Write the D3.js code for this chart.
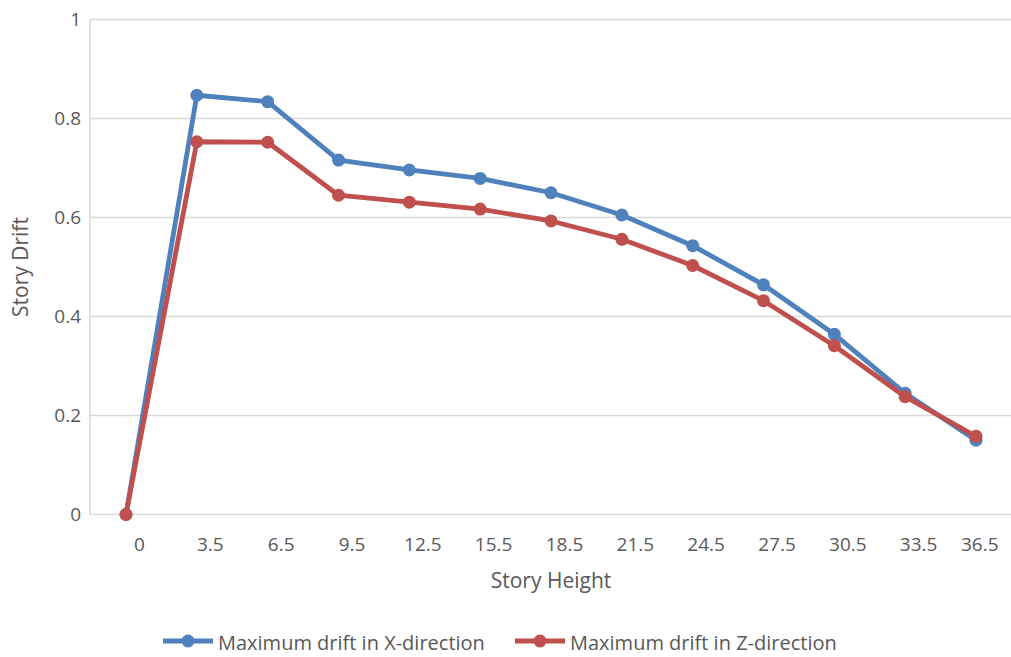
<!DOCTYPE html>
<html>
<head>
<meta charset="utf-8">
<script src="https://cdn.jsdelivr.net/npm/d3@7"></script>
<style>
  html, body { margin: 0; padding: 0; background: #fff; }
  svg { display: block; }
  text { font-family: "Open Sans", "Noto Sans", sans-serif; fill: #595959; }
</style>
</head>
<body>
<svg id="chart" width="1011" height="657"></svg>
<script>
// Story heights (m) along the building
const storyHeights = ["0", "3.5", "6.5", "9.5", "12.5", "15.5", "18.5", "21.5", "24.5", "27.5", "30.5", "33.5", "36.5"];
// Maximum story drift per level
const driftX = [0, 0.847, 0.834, 0.716, 0.696, 0.679, 0.650, 0.605, 0.543, 0.464, 0.364, 0.245, 0.150];
const driftZ = [0, 0.753, 0.752, 0.645, 0.631, 0.617, 0.593, 0.556, 0.503, 0.432, 0.341, 0.238, 0.158];
const yTicks = [0, 0.2, 0.4, 0.6, 0.8, 1];
const seriesNames = ["Maximum drift in X-direction", "Maximum drift in Z-direction"];
const seriesColors = ["#4F81BD", "#C0504D"];

const svg = d3.select("#chart");
const W = 1011;
const plotLeft = 90, plotTop = 19.5, plotBottom = 514.5;

const x = d3.scalePoint().domain(storyHeights).range([126, 976]);
const y = d3.scaleLinear().domain([0, 1]).range([plotBottom, plotTop]);

// Horizontal gridlines
svg.append("g")
  .selectAll("line")
  .data(yTicks)
  .join("line")
  .attr("x1", plotLeft).attr("x2", W)
  .attr("y1", d => y(d)).attr("y2", d => y(d))
  .attr("stroke", "#d9d9d9").attr("stroke-width", 1.5);

// Vertical axis line
svg.append("line")
  .attr("x1", plotLeft).attr("x2", plotLeft)
  .attr("y1", plotTop).attr("y2", plotBottom)
  .attr("stroke", "#d9d9d9").attr("stroke-width", 1.5);

// Y axis labels
const yAxis = svg.append("g")
  .attr("transform", `translate(${plotLeft},0)`)
  .call(d3.axisLeft(y).tickValues(yTicks).tickSize(0).tickPadding(9).tickFormat(d3.format("~g")));
yAxis.select(".domain").remove();
yAxis.attr("font-family", null);
yAxis.selectAll("text").style("font-size", "19px").attr("fill", "#595959");

// X axis labels
const xAxis = svg.append("g")
  .attr("transform", `translate(13,${plotBottom})`)
  .call(d3.axisBottom(x).tickSize(0).tickPadding(23));
xAxis.select(".domain").remove();
xAxis.attr("font-family", null);
xAxis.selectAll("text").style("font-size", "19px").attr("fill", "#595959");
xAxis.selectAll(".tick").each(function (d) {
  const t = d3.select(this).select("text");
  const w = t.node().getComputedTextLength();
  const right = x(d) + 13 + w / 2;
  if (right > 998) t.attr("x", 998 - right);
});

// Axis titles
svg.append("text")
  .attr("x", 551).attr("y", 588)
  .attr("text-anchor", "middle")
  .style("font-size", "21px")
  .text("Story Height");

svg.append("text")
  .attr("transform", `translate(28,${(plotTop + plotBottom) / 2}) rotate(-90)`)
  .attr("text-anchor", "middle")
  .style("font-size", "21px")
  .text("Story Drift");

// Series lines and markers
const line = d3.line().x((d, i) => x(storyHeights[i])).y(d => y(d));
[driftX, driftZ].forEach((values, s) => {
  const g = svg.append("g");
  g.append("path")
    .datum(values)
    .attr("d", line)
    .attr("fill", "none")
    .attr("stroke", seriesColors[s])
    .attr("stroke-width", 4.8)
    .attr("stroke-linejoin", "round")
    .attr("stroke-linecap", "round");
  g.selectAll("circle")
    .data(values)
    .join("circle")
    .attr("cx", (d, i) => x(storyHeights[i]))
    .attr("cy", d => y(d))
    .attr("r", 6.5)
    .attr("fill", seriesColors[s]);
});

// Legend
const legendX = [163, 515];
seriesNames.forEach((name, s) => {
  const g = svg.append("g").attr("transform", `translate(${legendX[s]},641)`);
  g.append("line").attr("x1", 0).attr("x2", 50).attr("y1", 0).attr("y2", 0)
    .attr("stroke", seriesColors[s]).attr("stroke-width", 4.8);
  g.append("circle").attr("cx", 25).attr("cy", 0).attr("r", 6.5).attr("fill", seriesColors[s]);
  g.append("text").attr("x", 55).attr("y", 9).style("font-size", "20px").text(name);
});
</script>
</body>
</html>
